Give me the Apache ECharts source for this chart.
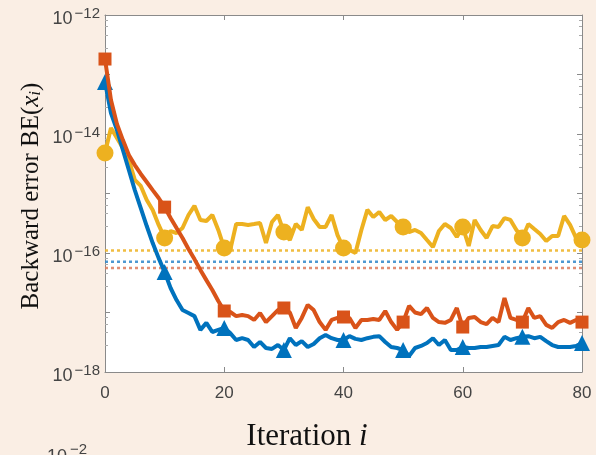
<!DOCTYPE html>
<html><head><meta charset="utf-8">
<script src="https://cdn.jsdelivr.net/npm/echarts@6/dist/echarts.min.js"></script>
<style>html,body{margin:0;padding:0;background:#faeee4}#c{width:596px;height:455px}</style>
</head><body><div id="c"></div>
<script>
// Iteration numbers 0..80 (x values)
const markerIters = [0, 10, 20, 30, 40, 50, 60, 70, 80];
const xTicks = [0, 20, 40, 60, 80];
const yTickExponents = [-12, -14, -16, -18];

// Backward error BE(x_i)
const blueBE = [
  7.5e-14, 2.25e-14, 1.17e-14, 5.4e-15, 2.48e-15, 1.14e-15, 5.7e-16, 2.84e-16, 1.47e-16, 8.2e-17,
  4.8e-17, 2.58e-17, 1.62e-17, 1.10e-17, 9.8e-18, 8.7e-18, 5.1e-18, 6.7e-18, 4.7e-18, 5.1e-18,
  5.5e-18, 4.5e-18, 3.45e-18, 3.7e-18, 3.45e-18, 2.63e-18, 3.2e-18, 2.53e-18, 2.44e-18, 2.84e-18,
  2.34e-18, 3.7e-18, 2.84e-18, 3.3e-18, 2.63e-18, 2.96e-18, 3.7e-18, 4.2e-18, 3.7e-18, 3.45e-18,
  3.45e-18, 4.0e-18, 3.6e-18, 3.45e-18, 3.7e-18, 3.9e-18, 4.0e-18, 3.2e-18, 2.63e-18, 2.53e-18,
  2.34e-18, 1.86e-18, 2.53e-18, 2.74e-18, 3.07e-18, 3.7e-18, 2.84e-18, 3.45e-18, 2.34e-18, 2.34e-18,
  2.63e-18, 2.53e-18, 2.53e-18, 2.63e-18, 2.63e-18, 2.74e-18, 2.84e-18, 3.9e-18, 3.45e-18, 3.7e-18,
  3.9e-18, 4.0e-18, 3.7e-18, 3.9e-18, 3.3e-18, 2.84e-18, 2.63e-18, 2.63e-18, 2.63e-18, 2.74e-18,
  3.07e-18
];
const redBE = [
  1.82e-13, 3.73e-14, 1.47e-14, 7.9e-15, 4.44e-15, 3.0e-15, 2.13e-15, 1.56e-15, 1.14e-15, 8.4e-16,
  5.9e-16, 3.87e-16, 2.63e-16, 1.79e-16, 1.17e-16, 7.9e-17, 5.2e-17, 3.5e-17, 2.39e-17, 1.56e-17,
  1.06e-17, 1.02e-17, 8.7e-18, 9.1e-18, 8.7e-18, 7.5e-18, 9.8e-18, 6.9e-18, 8.7e-18, 1.1e-17,
  1.19e-17, 1.0e-17, 5.5e-18, 8.1e-18, 1.34e-17, 1.1e-17, 6.9e-18, 5.1e-18, 7.5e-18, 8.1e-18,
  8.4e-18, 8.1e-18, 5.5e-18, 7.5e-18, 7.5e-18, 7.8e-18, 7.5e-18, 1.06e-17, 6.9e-18, 5.1e-18,
  6.9e-18, 1.29e-17, 1.0e-17, 9.4e-18, 1.19e-17, 8.1e-18, 6.9e-18, 6.7e-18, 7.5e-18, 1.19e-17,
  5.7e-18, 8.1e-18, 8.4e-18, 6.9e-18, 6.4e-18, 8.1e-18, 6.9e-18, 1.75e-17, 8.1e-18, 7.5e-18,
  6.9e-18, 1.19e-17, 8.1e-18, 8.7e-18, 6.2e-18, 5.5e-18, 6.9e-18, 7.5e-18, 6.7e-18, 7.5e-18,
  6.9e-18
];
const yellowBE = [
  4.8e-15, 1.26e-14, 8.6e-15, 5.8e-15, 3.66e-15, 1.69e-15, 1.34e-15, 7.8e-16, 5.3e-16, 2.96e-16,
  1.79e-16, 2.34e-16, 2.17e-16, 2.63e-16, 4.35e-16, 6.2e-16, 3.59e-16, 3.45e-16, 4.35e-16, 2.44e-16,
  1.21e-16, 1.12e-16, 3.07e-16, 3.07e-16, 2.96e-16, 3.07e-16, 3.19e-16, 1.47e-16, 3.32e-16, 4.35e-16,
  2.25e-16, 1.65e-16, 3.07e-16, 2.44e-16, 5.9e-16, 3.73e-16, 2.74e-16, 2.74e-16, 4.35e-16, 2.0e-16,
  1.21e-16, 1.12e-16, 1.0e-16, 2.44e-16, 5.3e-16, 4.03e-16, 4.89e-16, 3.59e-16, 4.19e-16, 3.32e-16,
  2.74e-16, 2.25e-16, 2.44e-16, 2.17e-16, 1.65e-16, 1.26e-16, 2.34e-16, 3.07e-16, 2.63e-16, 1.86e-16,
  2.74e-16, 1.31e-16, 3.59e-16, 2.44e-16, 1.79e-16, 2.84e-16, 2.74e-16, 3.87e-16, 3.59e-16, 2.44e-16,
  1.79e-16, 3.07e-16, 2.53e-16, 2.09e-16, 1.59e-16, 1.93e-16, 1.93e-16, 4.19e-16, 2.96e-16, 1.79e-16,
  1.65e-16
];
// dotted reference levels
const refLevels = [1.1e-16, 7.1e-17, 5.6e-17];
const refColors = ['#EDB120', '#2f86c9', '#dc7a5c'];

const BLUE = '#0072BD', RED = '#D95319', YELLOW = '#EDB120';
const AX = '#8a8a8a', TXT = '#444';

function toPairs(arr) { return arr.map((v, i) => [i, v]); }
function markerSymbol(name) {
  return (val, params) => markerIters.indexOf(params.dataIndex) >= 0 ? name : 'none';
}

const chart = echarts.init(document.getElementById('c'), null, { renderer: 'canvas' });

const yLabelRich = {
  b: { fontSize: 18, color: TXT, fontFamily: 'Liberation Sans', verticalAlign: 'bottom', lineHeight: 20 },
  s: { fontSize: 15, color: TXT, fontFamily: 'Liberation Sans', verticalAlign: 'bottom', lineHeight: 14, padding: [0, 0, 7, 2] }
};

const xMin = xTicks[0], xMax = xTicks[xTicks.length - 1];
const refSeries = refLevels.map((v, k) => ({
  type: 'line', name: 'ref' + k, data: [[xMin, v], [xMax, v]], z: 1, silent: true,
  symbol: 'none', lineStyle: { color: refColors[k], type: [3, 3], width: 2.5, opacity: 0.85 }
}));

const option = {
  backgroundColor: '#faeee4',
  animation: false,
  grid: { left: 105, right: 14, top: 15, bottom: 83, show: true, backgroundColor: '#ffffff', borderWidth: 0 },
  xAxis: [
    {
      type: 'value', min: xMin, max: xMax, interval: 20, position: 'bottom',
      axisLine: { onZero: false, lineStyle: { color: AX, width: 1 } },
      axisTick: { inside: true, length: 5, lineStyle: { color: AX } },
      axisLabel: { color: TXT, fontSize: 17, fontFamily: 'Liberation Sans', margin: 13,
        formatter: v => xTicks.indexOf(v) >= 0 ? String(v) : '' },
      splitLine: { show: false }
    },
    {
      type: 'value', min: xMin, max: xMax, interval: 20, position: 'top',
      axisLine: { onZero: false, lineStyle: { color: AX, width: 1 } },
      axisTick: { inside: true, length: 5, lineStyle: { color: AX } },
      axisLabel: { show: false }, splitLine: { show: false }
    }
  ],
  yAxis: [
    {
      type: 'log', logBase: 10, min: 1e-18, max: 1e-12, interval: 1, position: 'left',
      axisLine: { onZero: false, lineStyle: { color: AX, width: 1 } },
      axisTick: { inside: true, length: 5, lineStyle: { color: AX } },
      minorTick: { show: true, splitNumber: 5, length: 3, lineStyle: { color: '#aaa' } },
      axisLabel: {
        margin: 5, padding: [6, 0, 0, 0],
        formatter: v => {
          const e = Math.round(Math.log10(v));
          return yTickExponents.indexOf(e) >= 0 ? '{b|10}{s|\u2212' + Math.abs(e) + '}' : '';
        },
        rich: yLabelRich
      },
      splitLine: { show: false }
    },
    {
      type: 'log', logBase: 10, min: 1e-18, max: 1e-12, interval: 1, position: 'right',
      axisLine: { onZero: false, lineStyle: { color: AX, width: 1 } },
      axisTick: { inside: true, length: 5, lineStyle: { color: AX } },
      minorTick: { show: true, splitNumber: 5, length: 3, lineStyle: { color: '#aaa' } },
      axisLabel: { show: false }, splitLine: { show: false }
    }
  ],
  series: refSeries.concat([
    {
      type: 'line', name: 'yellow', data: toPairs(yellowBE), z: 3,
      showSymbol: true, showAllSymbol: true, symbol: markerSymbol('circle'), symbolSize: 17,
      lineStyle: { color: YELLOW, width: 4 }, itemStyle: { color: YELLOW, borderWidth: 0 }
    },
    {
      type: 'line', name: 'blue', data: toPairs(blueBE), z: 4,
      showSymbol: true, showAllSymbol: true, symbol: markerSymbol('triangle'), symbolSize: 16,
      lineStyle: { color: BLUE, width: 4 }, itemStyle: { color: BLUE, borderWidth: 0 }
    },
    {
      type: 'line', name: 'red', data: toPairs(redBE), z: 5,
      showSymbol: true, showAllSymbol: true, symbol: markerSymbol('rect'), symbolSize: 13,
      lineStyle: { color: RED, width: 4 }, itemStyle: { color: RED, borderWidth: 0 }
    }
  ]),
  graphic: [
    {
      type: 'text', position: [307, 437],
      style: {
        text: '{n|Iteration }{i|i}',
        rich: {
          n: { fontFamily: 'Liberation Serif', fontSize: 31, fill: '#111' },
          i: { fontFamily: 'Liberation Serif', fontStyle: 'italic', fontSize: 31, fill: '#111' }
        },
        textAlign: 'center', textVerticalAlign: 'middle'
      }
    },
    {
      type: 'text', position: [30, 196], rotation: Math.PI / 2,
      style: {
        text: '{n|Backward error BE(}{x|x}{s|i}{n|)}',
        rich: {
          n: { fontFamily: 'Liberation Serif', fontSize: 25, fill: '#111', verticalAlign: 'bottom', lineHeight: 28 },
          x: { fontFamily: 'Liberation Serif', fontStyle: 'italic', fontSize: 25, fill: '#111', verticalAlign: 'bottom', lineHeight: 28 },
          s: { fontFamily: 'Liberation Serif', fontStyle: 'italic', fontSize: 17, fill: '#111', verticalAlign: 'bottom', lineHeight: 10 }
        },
        textAlign: 'center', textVerticalAlign: 'middle'
      }
    },
    {
      type: 'text', position: [47, 448],
      style: { text: '10', fontFamily: 'Liberation Sans', fontSize: 18, fill: TXT, textVerticalAlign: 'top' }
    },
    {
      type: 'text', position: [70, 442],
      style: { text: '\u22122', fontFamily: 'Liberation Sans', fontSize: 15, fill: TXT, textVerticalAlign: 'top' }
    }
  ]
};
chart.setOption(option);
</script>
</body></html>
